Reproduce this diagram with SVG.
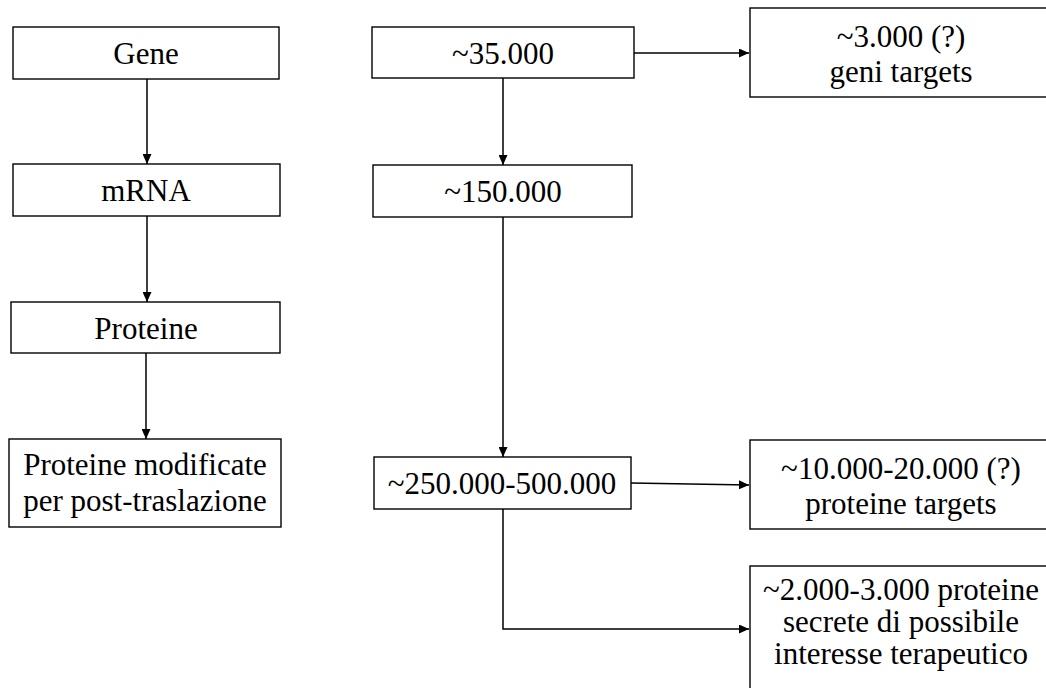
<svg xmlns="http://www.w3.org/2000/svg" width="1046" height="688" viewBox="0 0 1046 688">
<style>
.box{fill:#fff;stroke:#000;stroke-width:1.4}
.t{font-size:31px;fill:#000;text-anchor:middle}
.c{fill:none;stroke:#000;stroke-width:1.5}
</style>
<defs>
<marker id="ah" markerWidth="10" markerHeight="9" refX="10" refY="4.5" orient="auto" markerUnits="userSpaceOnUse">
<path d="M0,0 L10,4.5 L0,9 Z" fill="#000"/>
</marker>
</defs>
<rect width="1046" height="688" fill="#fff"/>
<g id="connectors">
<path class="c" d="M147,79 V164" marker-end="url(#ah)"/>
<path class="c" d="M147,216 V302" marker-end="url(#ah)"/>
<path class="c" d="M146,353 V439" marker-end="url(#ah)"/>
<path class="c" d="M634,53 H749" marker-end="url(#ah)"/>
<path class="c" d="M503,78 V165" marker-end="url(#ah)"/>
<path class="c" d="M503,217 V457" marker-end="url(#ah)"/>
<path class="c" d="M631,483 L749,485" marker-end="url(#ah)"/>
<path class="c" d="M503,509 V629 H749" marker-end="url(#ah)"/>
</g>
<g font-family="Liberation Serif, Tinos, Times New Roman, DejaVu Serif, serif">
<g id="gene"><rect class="box" x="13" y="27" width="266" height="52"/><text class="t" x="146" y="64">Gene</text></g>
<g id="mrna"><rect class="box" x="13" y="164" width="267" height="52"/><text class="t" x="146" y="201">mRNA</text></g>
<g id="proteine"><rect class="box" x="11" y="302" width="269" height="51"/><text class="t" x="146" y="339">Proteine</text></g>
<g id="proteine-mod"><rect class="box" x="9" y="439" width="272" height="88"/><text class="t" x="145" y="475">Proteine modificate</text><text class="t" x="145" y="511">per post-traslazione</text></g>
<g id="n35000"><rect class="box" x="372" y="27" width="262" height="51"/><text class="t" x="503" y="64">~35.000</text></g>
<g id="n150000"><rect class="box" x="373" y="165" width="259" height="52"/><text class="t" x="503" y="202">~150.000</text></g>
<g id="n250000"><rect class="box" x="374" y="457" width="257" height="52"/><text class="t" x="502" y="494">~250.000-500.000</text></g>
<g id="geni-targets"><rect class="box" x="750" y="8" width="320" height="89"/><text class="t" x="901" y="47">~3.000 (?)</text><text class="t" x="901" y="82">geni targets</text></g>
<g id="proteine-targets"><rect class="box" x="750" y="440" width="320" height="89"/><text class="t" x="901" y="479">~10.000-20.000 (?)</text><text class="t" x="901" y="514">proteine targets</text></g>
<g id="secrete"><rect class="box" x="750" y="566" width="320" height="140"/><text class="t" x="901" y="600">~2.000-3.000 proteine</text><text class="t" x="901" y="632">secrete di possibile</text><text class="t" x="901" y="664">interesse terapeutico</text></g>
</g>
</svg>
